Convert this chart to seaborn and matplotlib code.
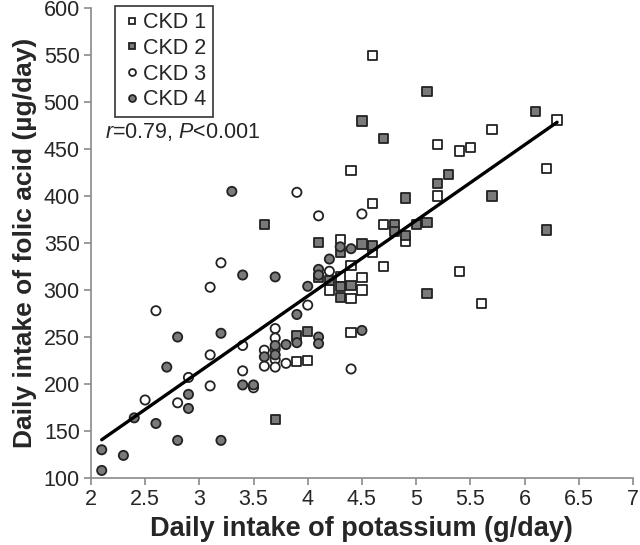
import pandas as pd
import matplotlib.pyplot as plt
import seaborn as sns

# values (potassium g/day, folic acid ug/day)
ckd1_k = [4.6, 6.3, 5.7, 5.2, 5.5, 5.4, 4.4, 6.2, 5.2, 4.6, 4.7, 4.3, 4.9,
          4.6, 4.4, 4.7, 5.4, 4.3, 4.5, 4.2, 4.5, 4.4, 5.6, 4.4, 3.9, 4.0]
ckd1_fa = [550, 481, 471, 455, 452, 448, 427, 429, 400, 392, 370, 354, 352,
           340, 326, 325, 320, 314, 313, 300, 300, 291, 286, 255, 224, 225]

ckd2_k = [5.1, 6.1, 4.5, 4.7, 5.3, 5.2, 4.9, 5.7, 3.6, 4.8, 5.0, 5.1, 6.2, 4.8,
          4.9, 4.1, 4.5, 4.6, 4.3, 4.1, 4.2, 4.3, 4.4, 5.1, 4.3, 3.9, 4.0, 3.7]
ckd2_fa = [511, 490, 480, 461, 423, 413, 398, 400, 370, 370, 370, 372, 364, 362,
           358, 351, 349, 347, 340, 313, 310, 304, 305, 296, 292, 251, 256, 162]

ckd3_k = [3.9, 4.5, 4.1, 3.2, 4.2, 3.1, 4.0, 2.6, 3.7, 3.7, 3.4, 3.6, 3.7,
          3.1, 3.7, 3.8, 3.6, 3.7, 4.4, 3.4, 2.9, 3.1, 3.5, 2.5, 2.8]
ckd3_fa = [404, 381, 379, 329, 320, 303, 284, 278, 259, 249, 241, 236, 237,
           231, 226, 222, 219, 218, 216, 214, 207, 198, 196, 183, 180]

ckd4_k = [3.3, 4.3, 4.4, 4.2, 4.1, 4.1, 3.4, 3.7, 4.0, 3.9, 4.5, 2.8, 3.2, 4.1,
          3.9, 3.8, 3.7, 4.1, 3.6, 3.7, 2.7, 3.4, 3.5, 2.9, 2.9, 2.4, 2.6, 2.8,
          3.2, 2.1, 2.3, 2.1]
ckd4_fa = [405, 346, 344, 333, 322, 316, 316, 314, 304, 274, 257, 250, 254, 250,
           244, 242, 241, 243, 229, 231, 218, 199, 199, 189, 174, 164, 158, 140,
           140, 130, 124, 108]

groups = ['CKD 1', 'CKD 2', 'CKD 3', 'CKD 4']
xs = [ckd1_k, ckd2_k, ckd3_k, ckd4_k]
ys = [ckd1_fa, ckd2_fa, ckd3_fa, ckd4_fa]

rows = []
for g, xv, yv in zip(groups, xs, ys):
    for a, b in zip(xv, yv):
        rows.append({'Potassium': a, 'Folic': b, 'Stage': g})
df = pd.DataFrame(rows)

sns.set_style('white')
plt.rcParams['font.family'] = ['Liberation Sans', 'DejaVu Sans']
plt.rcParams['mathtext.fontset'] = 'custom'
plt.rcParams['mathtext.it'] = 'Liberation Sans:italic'
plt.rcParams['mathtext.rm'] = 'Liberation Sans'

fig = plt.figure(figsize=(6.4, 5.45), dpi=100)
ax = fig.add_axes([0.142, 0.123, 0.847, 0.862])

palette = {'CKD 1': 'white', 'CKD 2': '#7a7a7a', 'CKD 3': 'white', 'CKD 4': '#7a7a7a'}
markers = {'CKD 1': 's', 'CKD 2': 's', 'CKD 3': 'o', 'CKD 4': 'o'}

sns.scatterplot(data=df, x='Potassium', y='Folic', hue='Stage', style='Stage',
                palette=palette, markers=markers, s=44, edgecolor='#222222',
                linewidth=1.3, ax=ax, zorder=3)

# regression line over all points
sns.regplot(data=df, x='Potassium', y='Folic', scatter=False, ci=None,
            color='black', line_kws={'lw': 2.4, 'zorder': 4}, ax=ax)

ax.set_xlim(2, 7)
ax.set_ylim(100, 600)
ax.set_xticks([2, 2.5, 3, 3.5, 4, 4.5, 5, 5.5, 6, 6.5, 7])
ax.set_xticklabels(['2', '2.5', '3', '3.5', '4', '4.5', '5', '5.5', '6', '6.5', '7'])
ax.set_yticks(range(100, 601, 50))

for side in ['top', 'right']:
    ax.spines[side].set_visible(False)
for side in ['left', 'bottom']:
    ax.spines[side].set_color('#8a8a8a')
    ax.spines[side].set_linewidth(1.2)
ax.tick_params(axis='both', direction='out', length=5, width=1.2,
               color='#8a8a8a', labelsize=15.5, pad=3)
ax.tick_params(axis='both', which='both', bottom=True, left=True)

ax.set_xlabel('Daily intake of potassium (g/day)', fontsize=19.5, fontweight='bold', labelpad=4)
ax.set_ylabel('Daily intake of folic acid (µg/day)', fontsize=19, fontweight='bold', labelpad=5)

ax.text(2.13, 468, r'$\it{r}$=0.79, $\it{P}$<0.001', fontsize=15.5, va='center', ha='left')

leg = ax.legend(loc='upper left', bbox_to_anchor=(0.045, 1.005), fontsize=15.5,
                frameon=True, fancybox=False, handletextpad=0.0, borderpad=0.3,
                labelspacing=0.22, handlelength=1.0, markerscale=0.75,
                borderaxespad=0.0)
leg.get_frame().set_edgecolor('black')
leg.get_frame().set_linewidth(1.2)

fig.savefig('out.png', dpi=100)
